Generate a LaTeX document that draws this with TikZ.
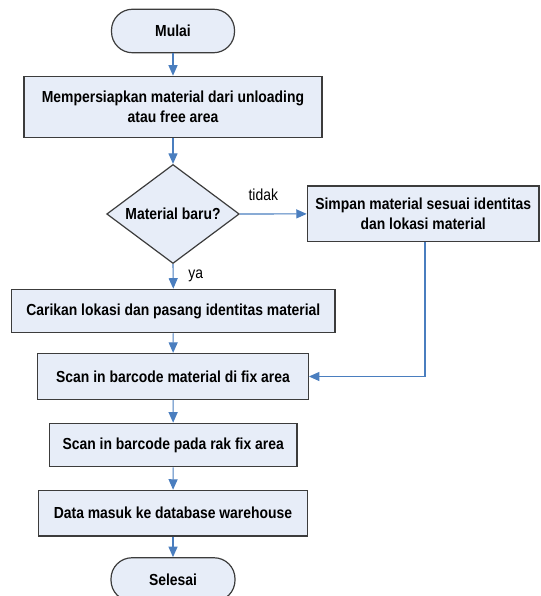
\documentclass[tikz,border=0pt]{standalone}
\usepackage{fontspec}
\setmainfont{Liberation Sans}[FakeStretch=0.87]
\usetikzlibrary{shapes.geometric,arrows.meta}
\definecolor{boxfill}{HTML}{E7EDF8}
\definecolor{boxline}{HTML}{3C3C3C}
\definecolor{flow}{HTML}{4A7EBF}
\tikzset{
  base/.style={draw=boxline, line width=1.2pt, fill=boxfill, inner sep=0pt,
    font=\fontsize{16}{20}\selectfont\bfseries, align=center},
  stepbox/.style={base, rectangle},
  terminal/.style={base, rectangle, rounded corners=21pt},
  decision/.style={base, diamond, aspect=1.34},
  flowline/.style={draw=flow, line width=1.1pt, -{Triangle[length=10.5pt,width=9pt]}},
  lbl/.style={font=\fontsize{16}{18}\selectfont, inner sep=0pt}
}
\begin{document}
\begin{tikzpicture}[x=1pt, y=-1pt]
  \useasboundingbox (0,0) rectangle (540,596);

  \node[terminal, minimum width=123pt, minimum height=43.5pt] (start) at (173,31) {Mulai};
  \node[stepbox, minimum width=298pt, minimum height=61pt] (prep) at (173,106.8)
    {Mempersiapkan material dari unloading\\atau free area};
  \node[decision, minimum width=132.6pt, minimum height=99pt] (new) at (173,214) {Material baru?};
  \node[stepbox, minimum width=231.7pt, minimum height=55.7pt] (store) at (423.2,213.9)
    {Simpan material sesuai identitas\\dan lokasi material};
  \node[stepbox, minimum width=323.3pt, minimum height=43.4pt] (locate) at (173.3,311)
    {Carikan lokasi dan pasang identitas material};
  \node[stepbox, minimum width=270.6pt, minimum height=46pt] (scanmat) at (173,376.5)
    {Scan in barcode material di fix area};
  \node[stepbox, minimum width=247.7pt, minimum height=43.4pt] (scanrak) at (173.2,445)
    {Scan in barcode pada rak fix area};
  \node[stepbox, minimum width=269.3pt, minimum height=45.7pt] (data) at (173,513.2)
    {Data masuk ke database warehouse};
  \node[terminal, minimum width=124pt, minimum height=43.5pt] (stop) at (173,579.5) {Selesai};

  \node[lbl] (no) at (263.3,195) {tidak};
  \node[lbl] (yes) at (195.7,276) {ya};

  \draw[flowline] (start) -- (prep);
  \draw[flowline] (prep) -- (new);
  \draw[flowline] (new.south) -- (locate.north);
  \draw[flowline] (new.east) -- (store.west);
  \draw[flowline] ([xshift=1.8pt]store.south) |- (scanmat.east);
  \draw[flowline] (locate) -- (scanmat);
  \draw[flowline] (scanmat) -- (scanrak);
  \draw[flowline] (scanrak) -- (data);
  \draw[flowline] (data) -- (stop);
\end{tikzpicture}
\end{document}
